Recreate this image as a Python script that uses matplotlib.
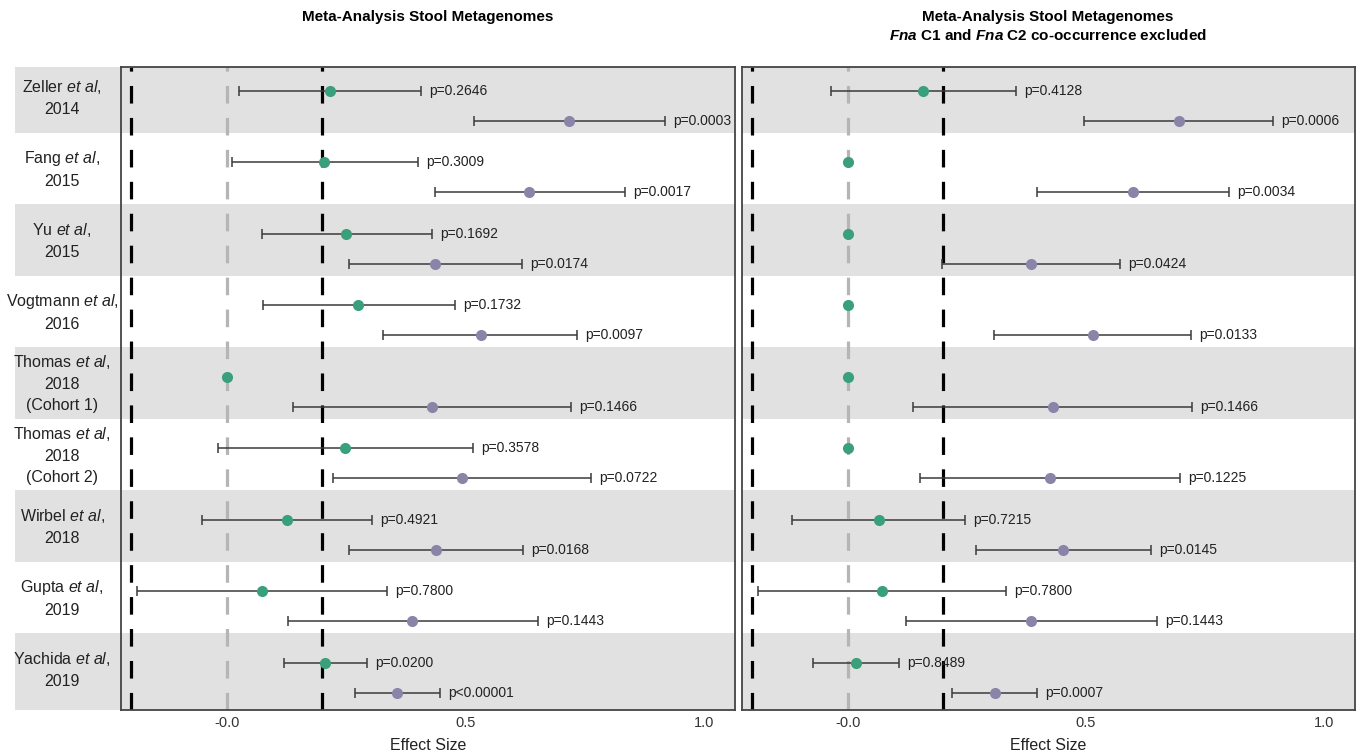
import numpy as np
import matplotlib
matplotlib.use("Agg")
import matplotlib.pyplot as plt
from matplotlib.patches import Rectangle

plt.rcParams['font.family'] = ['Liberation Sans', 'DejaVu Sans']
plt.rcParams['mathtext.fontset'] = 'custom'
plt.rcParams['mathtext.rm'] = 'Liberation Sans'
plt.rcParams['mathtext.it'] = 'Liberation Sans:italic'
plt.rcParams['mathtext.bf'] = 'Liberation Sans:bold'
plt.rcParams['mathtext.bfit'] = 'Liberation Sans:italic:bold'

# etudes
studies = ["Zeller $\\mathit{et\\ al}$,\n2014",
           "Fang $\\mathit{et\\ al}$,\n2015",
           "Yu $\\mathit{et\\ al}$,\n2015",
           "Vogtmann $\\mathit{et\\ al}$,\n2016",
           "Thomas $\\mathit{et\\ al}$,\n2018\n(Cohort 1)",
           "Thomas $\\mathit{et\\ al}$,\n2018\n(Cohort 2)",
           "Wirbel $\\mathit{et\\ al}$,\n2018",
           "Gupta $\\mathit{et\\ al}$,\n2019",
           "Yachida $\\mathit{et\\ al}$,\n2019"]

# panneau gauche : vert (C1) et violet (C2), estimation, borne basse, borne haute, p
g1_est = [0.216, 0.204, 0.250, 0.275, 0.0, 0.248, 0.126, 0.074, 0.206]
g1_lo = [0.025, 0.011, 0.074, 0.076, None, -0.019, -0.053, -0.189, 0.120]
g1_hi = [0.407, 0.401, 0.429, 0.479, None, 0.515, 0.305, 0.336, 0.294]
g1_p = ["p=0.2646", "p=0.3009", "p=0.1692", "p=0.1732", None, "p=0.3578", "p=0.4921", "p=0.7800", "p=0.0200"]
v1_est = [0.718, 0.634, 0.437, 0.532, 0.429, 0.492, 0.439, 0.387, 0.357]
v1_lo = [0.517, 0.437, 0.256, 0.328, 0.139, 0.223, 0.256, 0.128, 0.269]
v1_hi = [0.919, 0.834, 0.618, 0.733, 0.721, 0.763, 0.620, 0.653, 0.447]
v1_p = ["p=0.0003", "p=0.0017", "p=0.0174", "p=0.0097", "p=0.1466", "p=0.0722", "p=0.0168", "p=0.1443", "p<0.00001"]

# panneau droit
g2_est = [0.159, 0.0, 0.0, 0.0, 0.0, 0.0, 0.065, 0.071, 0.018]
g2_lo = [-0.036, None, None, None, None, None, -0.116, -0.188, -0.073]
g2_hi = [0.354, None, None, None, None, None, 0.246, 0.333, 0.107]
g2_p = ["p=0.4128", None, None, None, None, None, "p=0.7215", "p=0.7800", "p=0.8489"]
v2_est = [0.695, 0.598, 0.384, 0.514, 0.431, 0.425, 0.452, 0.385, 0.310]
v2_lo = [0.496, 0.397, 0.198, 0.307, 0.138, 0.152, 0.269, 0.123, 0.219]
v2_hi = [0.893, 0.801, 0.572, 0.720, 0.722, 0.697, 0.636, 0.649, 0.398]
v2_p = ["p=0.0006", "p=0.0034", "p=0.0424", "p=0.0133", "p=0.1466", "p=0.1225", "p=0.0145", "p=0.1443", "p=0.0007"]

green = '#3a9f7b'
purple = '#8b84a9'
stripe = '#e1e1e1'

fig = plt.figure(figsize=(13.61, 7.54), dpi=100)
W, H = 1361, 754
ax1 = fig.add_axes([121/W, 1-710/H, 614/W, 643/H])
ax2 = fig.add_axes([742/W, 1-710/H, 613/W, 643/H])

n = len(studies)
y_g = np.arange(n) + 0.41
y_v = np.arange(n) + 0.83
ytop, ybot = 0.08, 9.07


def draw(ax, ge, gl, gh, gp, ve, vl, vh, vp, labels):
    ax.set_xlim(-0.222, 1.065)
    ax.set_ylim(ybot, ytop)
    # bandes grises
    for i in range(0, n, 2):
        x0 = -0.173 if labels else 0
        y0 = max(i, ytop)
        y1 = ybot if i == n - 1 else i + 1
        ax.add_patch(Rectangle((x0, y0), 1 - x0, y1 - y0, transform=ax.get_yaxis_transform(),
                               facecolor=stripe, edgecolor='none', clip_on=False, zorder=0))
    # lignes pointillees
    for xv in [-0.2, 0.2]:
        ax.axvline(xv, color='black', lw=2.3, ls=(0, (5.5, 4.5)), zorder=1)
    ax.axvline(0, color='#b5b5b5', lw=2.3, ls=(0, (5.5, 4.5)), zorder=1)
    for i in range(n):
        for est, lo, hi, p, yy, col in [(ge[i], gl[i], gh[i], gp[i], y_g[i], green),
                                        (ve[i], vl[i], vh[i], vp[i], y_v[i], purple)]:
            if lo is not None:
                ax.errorbar(est, yy, xerr=[[est - lo], [hi - est]], fmt='none',
                            ecolor='#3a3a3a', elinewidth=1.1, capsize=3.8, capthick=1.1, zorder=2)
                ax.text(hi + 0.017, yy, p, fontsize=10, va='center', ha='left', color='#222222')
            ax.plot(est, yy, 'o', color=col, ms=8, mec='none', zorder=3)
        if labels:
            ax.text(-0.096, i + 0.5, studies[i], transform=ax.get_yaxis_transform(),
                    ha='center', va='center', fontsize=11.5, color='#222222', linespacing=1.5)
    ax.set_yticks([])
    ax.set_xticks([0, 0.5, 1.0])
    ax.set_xticklabels(['-0.0', '0.5', '1.0'], fontsize=10.5, color='#333333')
    ax.tick_params(axis='x', length=0, pad=4)
    ax.set_xlabel('Effect Size', fontsize=11.5, labelpad=6, color='#222222')
    for s in ax.spines.values():
        s.set_color('#444444')
        s.set_linewidth(1.3)
        s.set_zorder(4)


draw(ax1, g1_est, g1_lo, g1_hi, g1_p, v1_est, v1_lo, v1_hi, v1_p, True)
draw(ax2, g2_est, g2_lo, g2_hi, g2_p, v2_est, v2_lo, v2_hi, v2_p, False)

fig.text(428/W, 1-10/H, 'Meta-Analysis Stool Metagenomes', ha='center', va='top',
         fontsize=11, fontweight='bold')
fig.text(1048/W, 1-10/H, 'Meta-Analysis Stool Metagenomes\n$\\mathbfit{Fna}$ C1 and $\\mathbfit{Fna}$ C2 co-occurrence excluded',
         ha='center', va='top', fontsize=11, fontweight='bold', linespacing=1.3)

fig.savefig('out.png', dpi=100)
